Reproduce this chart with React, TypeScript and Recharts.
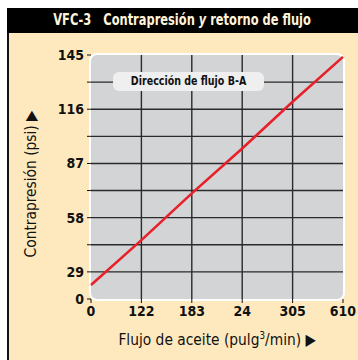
import { LineChart, Line, XAxis, YAxis, CartesianGrid } from "recharts";

// flow tick labels as printed (the "24" is how the sheet prints it)
const flowLabels = ["0", "122", "183", "24", "305", "610"];
// back pressure at each flow gridline (psi)
const pressure = [22, 46, 71, 95, 120, 144];
// y gridlines every 14.5 psi, only some labelled; bottom one is printed as "0"
const yTicks = [14.5, 29, 43.5, 58, 72.5, 87, 101.5, 116, 130.5, 145];
const yTickLabels = ["0", "29", "", "58", "", "87", "", "116", "", "145"];

const data = flowLabels.map((f, i) => ({ flujo: f, psi: pressure[i] }));

const narrow = "'Liberation Sans Narrow', 'DejaVu Sans Condensed', 'Liberation Sans', sans-serif";
const cream = "#FEE9BE";

export default function App() {
  return (
    <div style={{ position: "fixed", left: 0, top: 0, width: 358, height: 360, background: "#fff", fontFamily: narrow }}>
      {/* header + frame */}
      <div style={{ position: "absolute", left: 7, top: 8, width: 351, height: 352, background: cream, borderLeft: "2px solid #111", boxSizing: "border-box" }} />
      <div
        style={{
          position: "absolute", left: 7, top: 8, width: 351, height: 25, background: "#000",
          color: "#FFF3DA", fontWeight: "bold", fontSize: 15.5, lineHeight: "25px", textAlign: "center", whiteSpace: "pre",
        }}
      >
        <span style={{ display: "inline-block", transform: "scaleX(0.82)" }}>
          {"VFC-3   Contrapresión "}<i>y</i>{" retorno de flujo"}
        </span>
      </div>
      {/* plot background */}
      <div style={{ position: "absolute", left: 89, top: 53, width: 252, height: 244, border: "2px solid #fff", borderRadius: 8, background: "#D3D4D6" }} />

      <div style={{ position: "absolute", left: 0, top: 0 }}>
        <LineChart width={358} height={360} data={data} margin={{ top: 55, right: 15, bottom: 31, left: 51 }}>
          <CartesianGrid stroke="#2a2a2a" strokeWidth={1.4} fill="none" horizontalValues={yTicks.slice(1, -1)} verticalValues={flowLabels.slice(1, -1)} />
          <XAxis
            dataKey="flujo"
            interval={0}
            height={30}
            axisLine={false}
            tickSize={4}
            tickMargin={3}
            tickLine={{ stroke: "#111" }}
            tick={{ fill: "#111", fontSize: 14, fontWeight: "bold", fontFamily: narrow }}
          />
          <YAxis
            type="number"
            domain={[14.5, 145]}
            ticks={yTicks}
            interval={0}
            allowDataOverflow
            width={40}
            axisLine={false}
            tickSize={4}
            tickMargin={3}
            tickLine={{ stroke: "#111" }}
            tickFormatter={(v: number) => yTickLabels[yTicks.indexOf(v)] ?? ""}
            tick={{ fill: "#111", fontSize: 14, fontWeight: "bold", fontFamily: narrow }}
          />
          <Line type="linear" dataKey="psi" stroke="#E8202A" strokeWidth={2.6} dot={false} isAnimationActive={false} />
        </LineChart>
      </div>

      {/* flow direction tag */}
      <div
        style={{
          position: "absolute", left: 113, top: 72, width: 151, height: 19, background: "#EFEFEF", borderRadius: 6,
          fontSize: 12, fontWeight: "bold", color: "#111", textAlign: "center", lineHeight: "19px", whiteSpace: "nowrap",
        }}
      >
        <span style={{ display: "inline-block", transform: "scaleX(0.88)" }}>Dirección de flujo B-A</span>
      </div>

      {/* axis titles */}
      <div style={{ position: "absolute", left: 91, top: 329, width: 252, textAlign: "center", fontSize: 16.5, color: "#111", whiteSpace: "nowrap" }}>
        <span style={{ display: "inline-block", transform: "scaleX(0.93)" }}>
          Flujo de aceite (pulg<sup style={{ fontSize: 10.5, verticalAlign: "6px" }}>3</sup>/min) <span style={{ fontSize: 16 }}>▶</span>
        </span>
      </div>
      <div
        style={{
          position: "absolute", left: 30, top: 184, transform: "translate(-50%, -50%) rotate(-90deg) scaleX(0.93)",
          fontSize: 16.5, color: "#111", whiteSpace: "nowrap",
        }}
      >
        Contrapresión (psi) <span style={{ fontSize: 16 }}>▶</span>
      </div>
    </div>
  );
}
